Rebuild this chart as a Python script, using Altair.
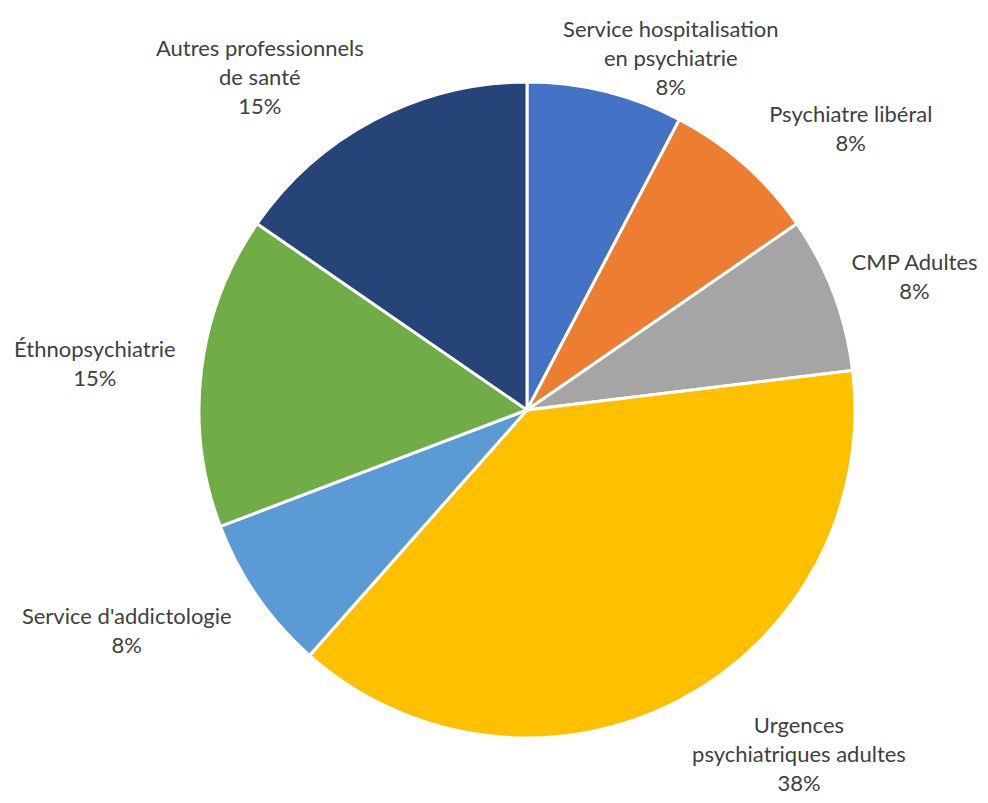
import altair as alt
import pandas as pd

categories = [
    "Service hospitalisation\nen psychiatrie",
    "Psychiatre libéral",
    "CMP Adultes",
    "Urgences\npsychiatriques adultes",
    "Service d'addictologie",
    "Éthnopsychiatrie",
    "Autres professionnels\nde santé",
]
values = [1, 1, 1, 5, 1, 2, 2]
colors = ["#4472C4", "#ED7D31", "#A5A5A5", "#FFC000", "#5B9BD5", "#70AD47", "#264478"]

total = sum(values)
df = pd.DataFrame({
    "cat": categories,
    "val": values,
    "order": list(range(len(categories))),
})
df["label"] = [f"{c}\n{round(v / total * 100)}%" for c, v in zip(categories, values)]
df["nl"] = [lbl.count("\n") + 1 for lbl in df["label"]]
# approximate rendered width of each label block (longest line)
df["w"] = [9.6 * max(len(s) for s in lbl.split("\n")) for lbl in df["label"]]

W, H = 972, 787
cx, cy = 519, 402
LH = 29

base = alt.Chart(df).encode(
    theta=alt.Theta("val:Q", stack=True),
    order=alt.Order("order:Q"),
)

pie = base.mark_arc(radius=328, stroke="white", strokeWidth=3).encode(
    color=alt.Color("cat:N", scale=alt.Scale(domain=categories, range=colors), legend=None),
    x=alt.value(cx),
    y=alt.value(cy),
)

labels = (
    alt.Chart(df)
    .transform_joinaggregate(tot="sum(val)")
    .transform_window(cum="sum(val)", sort=[alt.SortField("order")])
    .transform_calculate(a="2*PI*(datum.cum - datum.val/2)/datum.tot")
    .transform_calculate(
        lx=f"{cx} + 358*sin(datum.a) + (sin(datum.a) < 0 ? -1 : 1)*(datum.w/2)*min(1, 2.2*abs(sin(datum.a)))",
        ly=(
            f"{cy} - cos(datum.a)*(cos(datum.a) > 0 ? 375 - 120*max(0, 0.35 - abs(sin(datum.a))) : 390)"
            f" - (datum.nl-1)*{LH/2}"
        ),
    )
    .mark_text(
        font="Lato",
        fontSize=22,
        color="#404040",
        lineBreak="\n",
        lineHeight=LH,
        align="center",
        baseline="middle",
    )
    .encode(
        text="label:N",
        x=alt.X("lx:Q", scale=None, axis=None),
        y=alt.Y("ly:Q", scale=None, axis=None),
    )
)

chart = (pie + labels).properties(
    width=W, height=H, autosize=alt.AutoSizeParams(type="none"), padding=0
).configure_view(stroke=None)

chart.save("out.html", embed_options={"renderer": "svg", "actions": False})
